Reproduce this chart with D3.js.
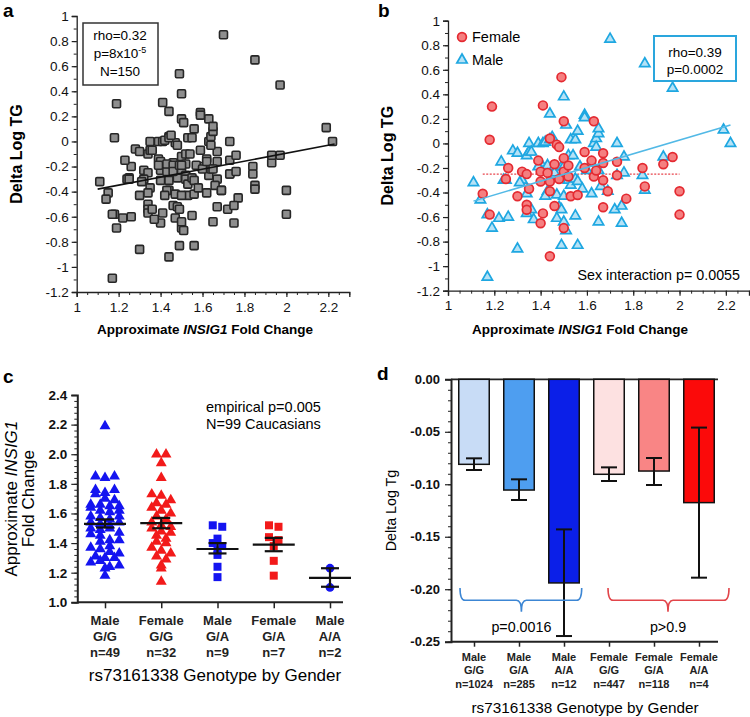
<!DOCTYPE html>
<html>
<head>
<meta charset="utf-8">
<script src="https://cdn.jsdelivr.net/npm/d3@7"></script>
<style>
body { margin: 0; background: #fff; }
svg { font-family: "Liberation Sans", Arial, sans-serif; }
</style>
</head>
<body>
<svg id="fig" width="750" height="717"></svg>
<script>
// ---- panel a/b: INSIG1 fold change vs delta log TG ----
var femalePts = [
    [1.19, 0.30], [1.18, 0.03], [1.15, -0.41], [1.18, -0.58], [1.26, -0.20], [1.25, -0.29],
    [1.30, -0.43], [1.32, -0.23], [1.34, -0.25], [1.35, -0.37], [1.34, -0.50], [1.34, -0.54],
    [1.41, 0.31], [1.39, -0.14], [1.40, -0.23], [1.40, -0.31], [1.41, -0.57], [1.40, -0.65],
    [1.43, -0.24], [1.44, -0.31], [1.44, 0.04], [1.44, -0.39], [1.44, -0.92], [1.46, -0.17],
    [1.46, -0.51], [1.47, -0.01], [1.48, -0.03], [1.48, -0.29], [1.49, 0.54], [1.50, -0.12],
    [1.50, -0.69], [1.50, 0.18], [1.50, -0.23], [1.52, -0.18], [1.52, -0.27], [1.53, -0.43],
    [1.56, -0.42], [1.59, -0.07], [1.59, -0.20], [1.62, -0.14], [1.63, 0.18], [1.63, -0.27],
    [1.64, -0.22], [1.67, -0.16], [1.67, -0.08], [1.67, -0.30], [1.67, -0.52], [1.69, -0.39],
    [1.73, -0.15], [1.73, -0.26], [1.77, -0.45], [1.84, -0.20], [1.85, -0.35], [1.93, -0.17],
    [1.97, -0.11], [2.00, -0.39], [2.00, -0.58]
];
var malePts = [
    [1.11, -0.32], [1.14, -0.46], [1.17, -0.58], [1.19, -0.69], [1.17, -1.09], [1.23, -0.15],
    [1.24, -0.30], [1.25, -0.30], [1.22, -0.61], [1.26, -0.60], [1.28, -0.06], [1.30, -0.08],
    [1.30, -0.86], [1.32, -0.30], [1.31, -0.32], [1.34, -0.10], [1.35, -0.07], [1.35, 0.00],
    [1.36, -0.07], [1.34, -0.41], [1.34, -0.57], [1.36, -0.54], [1.37, -0.62], [1.39, 0.00],
    [1.40, -0.16], [1.39, -0.19], [1.41, 0.00], [1.42, 0.01], [1.43, -0.18], [1.43, -0.39],
    [1.42, -0.43], [1.44, 0.24], [1.44, 0.03], [1.45, 0.05], [1.46, -0.19], [1.46, -0.24],
    [1.47, -0.61], [1.47, -0.42], [1.48, -0.52], [1.49, -0.19], [1.49, -0.54], [1.49, -0.83],
    [1.50, 0.38], [1.50, -0.19], [1.50, -0.43], [1.50, -0.64], [1.51, -0.71], [1.51, 0.15],
    [1.52, -0.10], [1.52, -0.30], [1.53, -0.34], [1.54, -0.10], [1.53, 0.03], [1.55, 0.03],
    [1.56, 0.10], [1.55, -0.29], [1.55, -0.59], [1.56, -0.83], [1.56, -0.31], [1.57, -0.19],
    [1.58, -0.37], [1.59, 0.23], [1.59, 0.21], [1.60, -0.22], [1.62, -0.41], [1.62, -0.16],
    [1.63, 0.00], [1.64, 0.04], [1.64, -0.03], [1.65, -0.22], [1.65, 0.08], [1.65, 0.12],
    [1.65, -0.64], [1.66, -0.35], [1.69, -0.39], [1.70, 0.85], [1.72, -0.54], [1.73, 0.00],
    [1.73, -0.26], [1.75, -0.51], [1.75, -0.65], [1.76, -0.11], [1.76, -0.24], [1.84, -0.26],
    [1.85, 0.65], [1.85, -0.38], [1.93, -0.11], [1.97, 0.45], [2.19, 0.11], [2.22, 0.00]
];
var fitAll = [[1.10, -0.38], [2.23, -0.02]];
var fitMale = [[1.11, -0.47], [2.22, 0.15]];
var fitFemale = [[1.15, -0.25], [2.00, -0.25]];
var abXTicks = [1, 1.2, 1.4, 1.6, 1.8, 2, 2.2];
var abYTicks = [-1.2, -1, -0.8, -0.6, -0.4, -0.2, 0, 0.2, 0.4, 0.6, 0.8, 1];

// ---- panel c: fold change by genotype and gender ----
var cGroups = ['mGG', 'fGG', 'mGA', 'fGA', 'mAA'];
var cLabels = [['Male', 'G/G', 'n=49'], ['Female', 'G/G', 'n=32'], ['Male', 'G/A', 'n=9'],
               ['Female', 'G/A', 'n=7'], ['Male', 'A/A', 'n=2']];
var cMaleGG = [2.19, 1.85, 1.84, 1.85, 1.76, 1.73, 1.74, 1.76, 1.70, 1.69, 1.66, 1.66, 1.65,
               1.64, 1.65, 1.62, 1.61, 1.62, 1.58, 1.57, 1.56, 1.58, 1.54, 1.53, 1.52, 1.54,
               1.50, 1.49, 1.50, 1.47, 1.46, 1.45, 1.42, 1.41, 1.42, 1.38, 1.37, 1.36, 1.34,
               1.33, 1.31, 1.30, 1.30, 1.27, 1.28, 1.24, 1.23, 1.25, 1.18];
var cFemaleGG = [2.00, 2.00, 1.94, 1.84, 1.73, 1.72, 1.69, 1.67, 1.66, 1.64, 1.62, 1.60, 1.58,
                 1.56, 1.54, 1.52, 1.51, 1.50, 1.48, 1.47, 1.45, 1.43, 1.41, 1.40, 1.37, 1.35,
                 1.33, 1.31, 1.29, 1.25, 1.23, 1.14];
var cMaleGA = [1.52, 1.51, 1.43, 1.40, 1.38, 1.35, 1.32, 1.24, 1.17];
var cFemaleGA = [1.52, 1.51, 1.44, 1.42, 1.38, 1.28, 1.18];
var cMaleAA = [1.23, 1.10];
var cMean = [1.53, 1.535, 1.36, 1.39, 1.165];
var cSemLo = [1.505, 1.50, 1.33, 1.345, 1.105];
var cSemHi = [1.56, 1.57, 1.40, 1.435, 1.23];

// ---- panel d: delta log Tg by genotype and gender ----
var dGroups = ['mGG', 'mGA', 'mAA', 'fGG', 'fGA', 'fAA'];
var dLabels = [['Male', 'G/G', 'n=1024'], ['Male', 'G/A', 'n=285'], ['Male', 'A/A', 'n=12'],
               ['Female', 'G/G', 'n=447'], ['Female', 'G/A', 'n=118'], ['Female', 'A/A', 'n=4']];
var dMean = [-0.081, -0.1055, -0.194, -0.0905, -0.0874, -0.1175];
var dErrHi = [-0.0753, -0.0953, -0.143, -0.0839, -0.075, -0.046];
var dErrLo = [-0.0864, -0.115, -0.2446, -0.0969, -0.1007, -0.189];

var svg = d3.select('#fig');

var fmt1 = function (d) { return String(Math.round(d * 10) / 10); };

var panelLabel = function (txt, x, y) {
    svg.append('text').attr('x', x).attr('y', y)
        .attr('font-size', 19).attr('font-weight', 'bold').text(txt);
};

// styles the tick groups of an axis
var styleAxis = function (g, size, weight) {
    g.selectAll('path.domain').attr('stroke', '#222').attr('stroke-width', 1.3);
    g.selectAll('.tick line').attr('stroke', '#222').attr('stroke-width', 1.2);
    g.selectAll('.tick text').attr('font-size', size).attr('font-weight', weight || 'normal')
        .attr('fill', '#111').attr('font-family', '"Liberation Sans", Arial, sans-serif');
};

var minorAxis = function (axisFn, scale, vals, transform, size) {
    var g = svg.append('g').attr('transform', transform)
        .call(axisFn(scale).tickValues(vals).tickSize(size).tickFormat(''));
    g.select('path.domain').remove();
    g.selectAll('.tick line').attr('stroke', '#222').attr('stroke-width', 1);
};

// scatter panel frame (a and b share this)
var scatterFrame = function (x, y, y0, titleX, titleCx) {
    minorAxis(d3.axisBottom, x, d3.range(1, 2.3001, 0.05), 'translate(0,' + y0 + ')', 3);
    minorAxis(d3.axisLeft, y, d3.range(-1.2, 1.0001, 0.1), 'translate(' + x(1) + ',0)', 3);

    var gx = svg.append('g').attr('transform', 'translate(0,' + y0 + ')')
        .call(d3.axisBottom(x).tickValues(abXTicks).tickFormat(fmt1).tickSize(5).tickPadding(5));
    styleAxis(gx, 13.5);
    var gy = svg.append('g').attr('transform', 'translate(' + x(1) + ',0)')
        .call(d3.axisLeft(y).tickValues(abYTicks).tickFormat(fmt1).tickSize(5).tickPadding(3));
    styleAxis(gy, 13.5);

    var t = svg.append('text').attr('x', titleCx).attr('y', 334)
        .attr('text-anchor', 'middle').attr('font-size', 13.5).attr('font-weight', 'bold');
    t.append('tspan').text('Approximate ');
    t.append('tspan').attr('font-style', 'italic').text('INSIG1');
    t.append('tspan').text(' Fold Change');

    svg.append('text')
        .attr('transform', 'translate(' + titleX + ',' + y(-0.1) + ') rotate(-90)')
        .attr('text-anchor', 'middle').attr('font-size', 16).attr('font-weight', 'bold')
        .text('Delta Log TG');
};

var line = function (x, y) {
    return d3.line().x(function (d) { return x(d[0]); }).y(function (d) { return y(d[1]); });
};

// ===================== panel a =====================
var xa = d3.scaleLinear().domain([1, 2.3]).range([76.7, 349.3]);
var ya = d3.scaleLinear().domain([-1.2, 1]).range([292, 16]);
scatterFrame(xa, ya, 292, 22, 205);
panelLabel('a', 3, 17);

var allPts = femalePts.concat(malePts);
svg.append('g').selectAll('rect').data(allPts).enter().append('rect')
    .attr('x', function (d) { return xa(d[0]) - 4; })
    .attr('y', function (d) { return ya(d[1]) - 4; })
    .attr('width', 8).attr('height', 8).attr('rx', 1.2)
    .attr('fill', '#8e8e8e').attr('stroke', '#262626').attr('stroke-width', 1.6);

svg.append('path').datum(fitAll).attr('d', line(xa, ya))
    .attr('fill', 'none').attr('stroke', '#111').attr('stroke-width', 1.6);

svg.append('rect').attr('x', 83).attr('y', 23).attr('width', 75).attr('height', 62)
    .attr('fill', '#fff').attr('stroke', '#333').attr('stroke-width', 1.5);
var boxA = svg.append('g').attr('font-size', 13.5).attr('text-anchor', 'middle');
boxA.append('text').attr('x', 120).attr('y', 40).text('rho=0.32');
var pa = boxA.append('text').attr('x', 120).attr('y', 58);
pa.append('tspan').text('p=8x10');
pa.append('tspan').attr('dy', -5).attr('font-size', 9).text('-5');
boxA.append('text').attr('x', 120).attr('y', 76).text('N=150');

// ===================== panel b =====================
var xb = d3.scaleLinear().domain([1, 2.3]).range([448, 749]);
var yb = d3.scaleLinear().domain([-1.2, 1]).range([290.7, 20.7]);
scatterFrame(xb, yb, 290.7, 393, 580);
panelLabel('b', 378, 17);

svg.append('path').datum(fitFemale).attr('d', line(xb, yb))
    .attr('fill', 'none').attr('stroke', '#e8444c').attr('stroke-width', 1.2)
    .attr('stroke-dasharray', '2,1.5');

var tri = d3.symbol().type(d3.symbolTriangle).size(46);
svg.append('g').selectAll('path').data(malePts).enter().append('path')
    .attr('d', tri)
    .attr('transform', function (d) { return 'translate(' + xb(d[0]) + ',' + yb(d[1]) + ')'; })
    .attr('fill', '#b5e2f6').attr('stroke', '#1ea7e1').attr('stroke-width', 1.7);

svg.append('g').selectAll('circle').data(femalePts).enter().append('circle')
    .attr('cx', function (d) { return xb(d[0]); })
    .attr('cy', function (d) { return yb(d[1]); })
    .attr('r', 4.4)
    .attr('fill', '#f57f80').attr('stroke', '#e42a31').attr('stroke-width', 1.7);

svg.append('path').datum(fitMale).attr('d', line(xb, yb))
    .attr('fill', 'none').attr('stroke', '#52b9e6').attr('stroke-width', 1.5);

// legend
svg.append('circle').attr('cx', 462).attr('cy', 37).attr('r', 4.4)
    .attr('fill', '#f57f80').attr('stroke', '#e42a31').attr('stroke-width', 1.7);
svg.append('path').attr('d', tri).attr('transform', 'translate(462,60)')
    .attr('fill', '#b5e2f6').attr('stroke', '#1ea7e1').attr('stroke-width', 1.7);
svg.append('text').attr('x', 472).attr('y', 42).attr('font-size', 14.5).text('Female');
svg.append('text').attr('x', 472).attr('y', 65).attr('font-size', 14.5).text('Male');

svg.append('rect').attr('x', 654).attr('y', 36).attr('width', 82).attr('height', 45)
    .attr('fill', '#fff').attr('stroke', '#2aa6dd').attr('stroke-width', 2);
svg.append('text').attr('x', 695).attr('y', 57).attr('text-anchor', 'middle')
    .attr('font-size', 13.5).text('rho=0.39');
svg.append('text').attr('x', 695).attr('y', 74).attr('text-anchor', 'middle')
    .attr('font-size', 13.5).text('p=0.0002');
svg.append('text').attr('x', 740).attr('y', 280).attr('text-anchor', 'end')
    .attr('font-size', 14.3).text('Sex interaction p= 0.0055');

// ===================== panel c =====================
panelLabel('c', 3, 383);
var xc = d3.scalePoint().domain(cGroups).range([105, 330]);
var yc = d3.scaleLinear().domain([1.0, 2.4]).range([602.3, 395]);

minorAxis(d3.axisLeft, yc, d3.range(1.0, 2.4001, 0.04), 'translate(77.3,0)', 3);
var gyc = svg.append('g').attr('transform', 'translate(77.3,0)')
    .call(d3.axisLeft(yc).ticks(7).tickFormat(d3.format('.1f')).tickSize(6).tickPadding(4));
styleAxis(gyc, 13.5, 'bold');
gyc.selectAll('path.domain').attr('stroke-width', 2);

var gxc = svg.append('g').attr('transform', 'translate(0,602.3)')
    .call(d3.axisBottom(xc).tickSize(6).tickFormat(''));
gxc.select('path.domain').attr('d', 'M77.3,0H343').attr('stroke', '#222').attr('stroke-width', 2);
gxc.selectAll('.tick line').attr('stroke', '#222').attr('stroke-width', 1.5);

cLabels.forEach(function (lines, i) {
    var t = svg.append('text').attr('text-anchor', 'middle').attr('font-size', 13)
        .attr('font-weight', 'bold').attr('fill', '#222');
    lines.forEach(function (s, j) {
        t.append('tspan').attr('x', xc(cGroups[i])).attr('y', 625 + j * 15.8).text(s);
    });
});
svg.append('text').attr('x', 215).attr('y', 681).attr('text-anchor', 'middle')
    .attr('font-size', 17).text('rs73161338 Genotype by Gender');

var ctitle = svg.append('text')
    .attr('transform', 'translate(17,' + yc(1.7) + ') rotate(-90)')
    .attr('text-anchor', 'middle').attr('font-size', 17);
ctitle.append('tspan').text('Approximate ');
ctitle.append('tspan').attr('font-style', 'italic').text('INSIG1');
svg.append('text')
    .attr('transform', 'translate(34,' + yc(1.7) + ') rotate(-90)')
    .attr('text-anchor', 'middle').attr('font-size', 17).text('Fold Change');

svg.append('text').attr('x', 206).attr('y', 412).attr('font-size', 14.5).text('empirical p=0.005');
svg.append('text').attr('x', 206).attr('y', 429).attr('font-size', 14.5).text('N=99 Caucasians');

// simple row-binned swarm so the points spread like the dot plot
var swarm = function (vals, key) {
    var bins = d3.group(vals, function (v) { return Math.round(v / 0.045); });
    var out = [];
    bins.forEach(function (arr) {
        arr.forEach(function (v, i) {
            out.push({ v: v, dx: (i - (arr.length - 1) / 2) * 9.5, key: key });
        });
    });
    return out;
};

var blueC = '#1414f0', redC = '#f21a1a';
var triC = d3.symbol().type(d3.symbolTriangle).size(52);
var sqC = d3.symbol().type(d3.symbolSquare).size(64);
var circC = d3.symbol().type(d3.symbolCircle).size(60);
var cSeries = [
    { key: 'mGG', vals: cMaleGG, sym: triC, color: blueC },
    { key: 'fGG', vals: cFemaleGG, sym: triC, color: redC },
    { key: 'mGA', vals: cMaleGA, sym: sqC, color: blueC },
    { key: 'fGA', vals: cFemaleGA, sym: sqC, color: redC },
    { key: 'mAA', vals: cMaleAA, sym: circC, color: blueC }
];
cSeries.forEach(function (s) {
    svg.append('g').selectAll('path').data(swarm(s.vals, s.key)).enter().append('path')
        .attr('d', s.sym)
        .attr('transform', function (d) {
            return 'translate(' + (xc(d.key) + d.dx) + ',' + yc(d.v) + ')';
        })
        .attr('fill', s.color);
});

cGroups.forEach(function (k, i) {
    var cx = xc(k), g = svg.append('g').attr('stroke', '#111').attr('stroke-width', 2.2);
    g.append('line').attr('x1', cx - 21).attr('x2', cx + 21)
        .attr('y1', yc(cMean[i])).attr('y2', yc(cMean[i]));
    g.append('line').attr('x1', cx).attr('x2', cx)
        .attr('y1', yc(cSemLo[i])).attr('y2', yc(cSemHi[i]));
    [cSemLo[i], cSemHi[i]].forEach(function (v) {
        g.append('line').attr('x1', cx - 9).attr('x2', cx + 9).attr('y1', yc(v)).attr('y2', yc(v));
    });
});

// ===================== panel d =====================
panelLabel('d', 377, 380);
var xd = d3.scalePoint().domain(dGroups).range([474, 699]);
var yd = d3.scaleLinear().domain([-0.25, 0]).range([641.7, 379.3]);
var dColors = ['#c8dcf6', '#4e9ef0', '#0b1fe8', '#fde1e1', '#f98585', '#fb0a0a'];
var barW = 30.5;

minorAxis(d3.axisLeft, yd, d3.range(-0.25, 0.0001, 0.01), 'translate(451,0)', 3);
var gyd = svg.append('g').attr('transform', 'translate(451,0)')
    .call(d3.axisLeft(yd).tickValues([-0.25, -0.2, -0.15, -0.1, -0.05, 0])
        .tickFormat(function (d) { return d.toFixed(2); }).tickSize(6).tickPadding(5));
styleAxis(gyd, 13, 'bold');
gyd.selectAll('path.domain').attr('stroke-width', 2);

svg.append('line').attr('x1', 451).attr('x2', 718).attr('y1', yd(0)).attr('y2', yd(0))
    .attr('stroke', '#222').attr('stroke-width', 1.8);
var gxd = svg.append('g').attr('transform', 'translate(0,' + yd(-0.25) + ')')
    .call(d3.axisBottom(xd).tickSize(5).tickFormat(''));
gxd.select('path.domain').attr('d', 'M451,0H718').attr('stroke', '#222').attr('stroke-width', 2);
gxd.selectAll('.tick line').attr('stroke', '#222').attr('stroke-width', 1.5);

svg.append('g').selectAll('rect').data(dGroups).enter().append('rect')
    .attr('x', function (d) { return xd(d) - barW / 2; })
    .attr('y', yd(0))
    .attr('width', barW)
    .attr('height', function (d, i) { return yd(dMean[i]) - yd(0); })
    .attr('fill', function (d, i) { return dColors[i]; })
    .attr('stroke', '#111').attr('stroke-width', 1.5);

dGroups.forEach(function (k, i) {
    var cx = xd(k), g = svg.append('g').attr('stroke', '#111').attr('stroke-width', 2);
    g.append('line').attr('x1', cx).attr('x2', cx).attr('y1', yd(dErrHi[i])).attr('y2', yd(dErrLo[i]));
    [dErrHi[i], dErrLo[i]].forEach(function (v) {
        g.append('line').attr('x1', cx - 8).attr('x2', cx + 8).attr('y1', yd(v)).attr('y2', yd(v));
    });
});

// curly braces grouping male and female genotypes
var brace = function (x1, xm, x2, color) {
    var y0 = yd(-0.1988), y1 = yd(-0.2105), y2 = yd(-0.2215), r = 5;
    var p = 'M' + x1 + ',' + y0 + 'Q' + x1 + ',' + y1 + ' ' + (x1 + r) + ',' + y1 +
        'L' + (xm - r) + ',' + y1 + 'Q' + xm + ',' + y1 + ' ' + xm + ',' + y2 +
        'Q' + xm + ',' + y1 + ' ' + (xm + r) + ',' + y1 +
        'L' + (x2 - r) + ',' + y1 + 'Q' + x2 + ',' + y1 + ' ' + x2 + ',' + y0;
    svg.append('path').attr('d', p).attr('fill', 'none').attr('stroke', color).attr('stroke-width', 1.6);
};
brace(xd('mGG') - 14, xd('mGA') + 2.4, xd('mAA') + 17.7, '#3c86d4');
brace(xd('fGG') - 1, xd('fGA') + 14, xd('fAA') + 30, '#e2454a');

svg.append('text').attr('x', xd('mGA') + 2.4).attr('y', 632).attr('text-anchor', 'middle')
    .attr('font-size', 14.3).text('p=0.0016');
svg.append('text').attr('x', xd('fGA') + 14).attr('y', 632).attr('text-anchor', 'middle')
    .attr('font-size', 14.3).text('p>0.9');

dLabels.forEach(function (lines, i) {
    var t = svg.append('text').attr('text-anchor', 'middle').attr('font-size', 11)
        .attr('font-weight', 'bold').attr('fill', '#222');
    lines.forEach(function (s, j) {
        t.append('tspan').attr('x', xd(dGroups[i])).attr('y', 661 + j * 13.3).text(s);
    });
});
svg.append('text').attr('x', 585).attr('y', 713).attr('text-anchor', 'middle')
    .attr('font-size', 15.3).text('rs73161338 Genotype by Gender');
svg.append('text')
    .attr('transform', 'translate(396,' + yd(-0.125) + ') rotate(-90)')
    .attr('text-anchor', 'middle').attr('font-size', 14.3).text('Delta Log Tg');
</script>
</body>
</html>
